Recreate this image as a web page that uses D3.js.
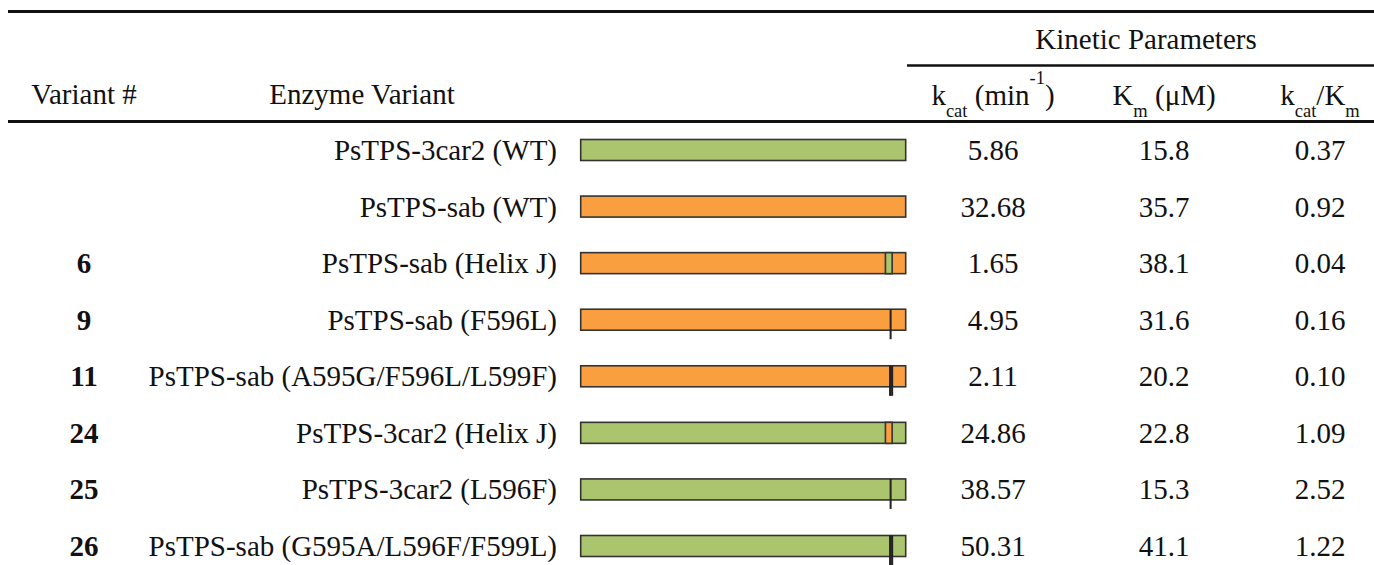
<!DOCTYPE html>
<html>
<head>
<meta charset="utf-8">
<script src="https://cdn.jsdelivr.net/npm/d3@7"></script>
<style>
  html, body { margin: 0; padding: 0; background: #fff; }
  svg { display: block; }
</style>
</head>
<body>
<svg id="chart" width="1374" height="565"></svg>
<script>
// ---------- data ----------
const variantNums = ["", "", "6", "9", "11", "24", "25", "26"];
const enzymeNames = [
  "PsTPS-3car2 (WT)",
  "PsTPS-sab (WT)",
  "PsTPS-sab (Helix J)",
  "PsTPS-sab (F596L)",
  "PsTPS-sab (A595G/F596L/L599F)",
  "PsTPS-3car2 (Helix J)",
  "PsTPS-3car2 (L596F)",
  "PsTPS-sab (G595A/L596F/F599L)"
];
const backbone = ["3car2", "sab", "sab", "sab", "sab", "3car2", "3car2", "3car2"];
const swapSegment = [null, null, [586, 599], null, null, [586, 599], null, null];
const mutations = [[], [], [], [596], [595, 596, 599], [], [596], [595, 596, 599]];
const kcat = ["5.86", "32.68", "1.65", "4.95", "2.11", "24.86", "38.57", "50.31"];
const km = ["15.8", "35.7", "38.1", "31.6", "20.2", "22.8", "15.3", "41.1"];
const kcatKm = ["0.37", "0.92", "0.04", "0.16", "0.10", "1.09", "2.52", "1.22"];
const proteinLength = 625;
const backboneColors = { "3car2": "#abc56e", "sab": "#f99f40" };

// ---------- layout ----------
const FONT = "Liberation Serif";
const svg = d3.select("#chart").attr("font-family", FONT);
const W = 1374;
const rows = d3.range(enzymeNames.length);
const y = d3.scalePoint().domain(rows).range([150, 546]);
const x = d3.scaleLinear().domain([0, proteinLength]).range([580.7, 905.7]);
const barH = 21;
const cols = { num: 84, kcat: 993, km: 1164, ratio: 1320 };
const FS = 29, FSs = 18.5;

function txt(sel) {
  return sel.attr("font-family", FONT).style("font-family", "Liberation Serif, DejaVu Serif, serif").attr("fill", "#111");
}

// rules
svg.append("line").attr("x1", 8).attr("x2", W).attr("y1", 11.5).attr("y2", 11.5)
  .attr("stroke", "#111").attr("stroke-width", 3);
svg.append("line").attr("x1", 907).attr("x2", W).attr("y1", 65.5).attr("y2", 65.5)
  .attr("stroke", "#111").attr("stroke-width", 2.5);
svg.append("line").attr("x1", 8).attr("x2", W).attr("y1", 121.5).attr("y2", 121.5)
  .attr("stroke", "#111").attr("stroke-width", 3);

// header
txt(svg.append("text")).attr("x", 1146).attr("y", 49).attr("text-anchor", "middle")
  .attr("font-size", FS).text("Kinetic Parameters");
txt(svg.append("text")).attr("x", cols.num).attr("y", 104).attr("text-anchor", "middle")
  .attr("font-size", FS).text("Variant #");
txt(svg.append("text")).attr("x", 362).attr("y", 104).attr("text-anchor", "middle")
  .attr("font-size", FS).text("Enzyme Variant");

function header(parts, cx) {
  const t = txt(svg.append("text")).attr("x", cx).attr("y", 105)
    .attr("text-anchor", "middle").attr("font-size", FS);
  parts.forEach(p => {
    const ts = t.append("tspan").text(p.t);
    if (p.small) ts.attr("font-size", FSs);
    if (p.dy) ts.attr("dy", p.dy);
  });
}
header([
  { t: "k" }, { t: "cat", small: true, dy: 12 }, { t: " (min", dy: -12 },
  { t: "-1", small: true, dy: -21 }, { t: ")", dy: 21 }
], cols.kcat);
header([
  { t: "K" }, { t: "m", small: true, dy: 12 }, { t: " (\u03bcM)", dy: -12 }
], cols.km);
header([
  { t: "k" }, { t: "cat", small: true, dy: 12 }, { t: "/K", dy: -12 },
  { t: "m", small: true, dy: 12 }
], cols.ratio);

// rows
const g = svg.append("g").selectAll("g.row").data(rows).join("g").attr("class", "row");

txt(g.append("text")).attr("x", cols.num).attr("y", i => y(i) + 10).attr("text-anchor", "middle")
  .attr("font-size", FS).attr("font-weight", "bold").text(i => variantNums[i]);
txt(g.append("text")).attr("x", 557).attr("y", i => y(i) + 10).attr("text-anchor", "end")
  .attr("font-size", FS).text(i => enzymeNames[i]);

// bars
g.append("rect")
  .attr("x", x(0)).attr("y", i => y(i) - barH / 2)
  .attr("width", x(proteinLength) - x(0)).attr("height", barH)
  .attr("fill", i => backboneColors[backbone[i]])
  .attr("stroke", "#333").attr("stroke-width", 1.6);

g.filter(i => swapSegment[i]).append("rect")
  .attr("x", i => x(swapSegment[i][0])).attr("y", i => y(i) - barH / 2)
  .attr("width", i => x(swapSegment[i][1]) - x(swapSegment[i][0])).attr("height", barH)
  .attr("fill", i => backboneColors[backbone[i] === "sab" ? "3car2" : "sab"])
  .attr("stroke", "#333").attr("stroke-width", 1.6);

g.each(function(i) {
  d3.select(this).selectAll("line.mut").data(mutations[i]).join("line").attr("class", "mut")
    .attr("x1", d => x(d)).attr("x2", d => x(d))
    .attr("y1", y(i) - barH / 2).attr("y2", y(i) + barH / 2 + 9)
    .attr("stroke", "#222").attr("stroke-width", 2);
});

// values
txt(g.append("text")).attr("x", cols.kcat).attr("y", i => y(i) + 10).attr("text-anchor", "middle")
  .attr("font-size", FS).text(i => kcat[i]);
txt(g.append("text")).attr("x", cols.km).attr("y", i => y(i) + 10).attr("text-anchor", "middle")
  .attr("font-size", FS).text(i => km[i]);
txt(g.append("text")).attr("x", cols.ratio).attr("y", i => y(i) + 10).attr("text-anchor", "middle")
  .attr("font-size", FS).text(i => kcatKm[i]);
</script>
</body>
</html>
